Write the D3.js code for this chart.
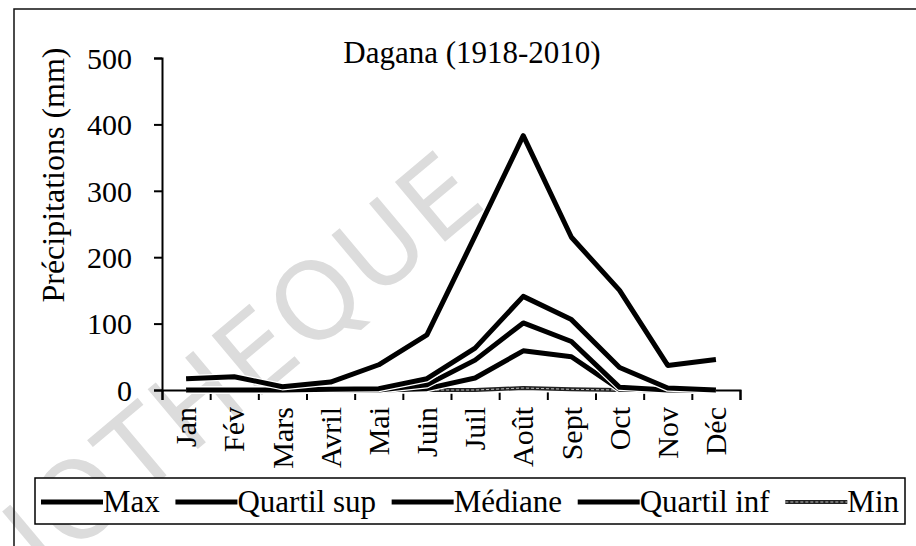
<!DOCTYPE html>
<html>
<head>
<meta charset="utf-8">
<script src="https://cdn.jsdelivr.net/npm/d3@7"></script>
<style>
  body { margin: 0; background: #fff; }
  svg text { font-family: "Liberation Serif", "Times New Roman", serif; fill: #000; }
</style>
</head>
<body>
<div id="chart"></div>
<script>
var months = ["Jan", "Fév", "Mars", "Avril", "Mai", "Juin", "Juil", "Août", "Sept", "Oct", "Nov", "Déc"];
var maxVals = [17, 20, 5, 12, 38, 83, 232, 383, 230, 150, 37, 46];
var quartSup = [0, 0, 0, 1, 2, 17, 63, 141, 106, 34, 3, 0];
var mediane = [0, 0, 0, 0, 0, 8, 45, 101, 73, 4, 0, 0];
var quartInf = [0, 0, 0, 0, 0, 2, 18, 59, 50, 1, 0, 0];
var minVals = [0, 0, 0, 0, 0, 0, 0, 3, 1, 0, 0, 0];
var seriesNames = ["Max", "Quartil sup", "Médiane", "Quartil inf", "Min"];
var yTicks = [0, 100, 200, 300, 400, 500];

var series = [maxVals, quartSup, mediane, quartInf, minVals].map(function(v, i) {
    return { name: seriesNames[i], values: v };
});

var width = 916, height = 546;
var svg = d3.select("#chart").append("svg").attr("width", width).attr("height", height);

// watermark
svg.append("text")
    .attr("transform", "translate(491,203) rotate(-40)")
    .attr("text-anchor", "end")
    .style("font-family", "DejaVu Sans")
    .attr("font-size", 107)
    .style("fill", "#dcdcdc")
    .attr("letter-spacing", 3)
    .text("BIBLIOTHEQUE");

// outer frame
svg.append("rect").attr("x", 14).attr("y", 9).attr("width", 1000).attr("height", 1000)
    .attr("fill", "none").attr("stroke", "#111").attr("stroke-width", 1.5);

var x = d3.scaleBand().domain(months).range([162, 740]);
var xb = d3.scaleLinear().domain([0, 12]).range([162, 740]);
var y = d3.scaleLinear().domain([0, 500]).range([390, 58]);

// y axis
var yAxis = d3.axisLeft(y).tickValues(yTicks).tickSize(8).tickPadding(22);
var yg = svg.append("g").attr("transform", "translate(162,0)").call(yAxis);
yg.selectAll("text").attr("font-size", 30).attr("dy", "0.34em");

// x axis, ticks between categories
var xAxis = d3.axisBottom(xb).ticks(12).tickSize(10).tickFormat("");
svg.append("g").attr("transform", "translate(0,390)").call(xAxis);
svg.selectAll(".domain").attr("stroke", "#000").attr("stroke-width", 2);
svg.selectAll(".tick line").attr("stroke", "#000").attr("stroke-width", 2);

svg.append("g").selectAll("text").data(months).enter().append("text")
    .attr("transform", function(d) {
        return "translate(" + (x(d) + x.bandwidth() / 2) + ",407) rotate(-90)";
    })
    .attr("dy", "0.34em")
    .attr("text-anchor", "end")
    .attr("font-size", 30)
    .text(function(d) { return d; });

// lines
var line = d3.line()
    .x(function(d, i) { return x(months[i]) + x.bandwidth() / 2; })
    .y(function(d) { return y(d); });

var lines = svg.append("g");
series.slice().reverse().forEach(function(s) {
    lines.append("path").attr("d", line(s.values)).attr("fill", "none")
        .attr("stroke", "#fff").attr("stroke-width", 7.5).attr("stroke-linejoin", "round");
    if (s.name === "Min") {
        lines.append("path").attr("d", line(s.values)).attr("fill", "none")
            .attr("stroke", "#222").attr("stroke-width", 4);
        lines.append("path").attr("d", line(s.values)).attr("fill", "none")
            .attr("stroke", "#bbb").attr("stroke-width", 1).attr("stroke-dasharray", "3,2");
    } else {
        lines.append("path").attr("d", line(s.values)).attr("fill", "none")
            .attr("stroke", "#000").attr("stroke-width", 5).attr("stroke-linejoin", "round");
    }
});

// title
svg.append("text").attr("x", 472).attr("y", 63).attr("text-anchor", "middle")
    .attr("font-size", 31).text("Dagana (1918-2010)");

// y label
svg.append("text").attr("transform", "translate(64,175) rotate(-90)")
    .attr("text-anchor", "middle").attr("font-size", 32).text("Précipitations (mm)");

// legend
var boxX = 35, boxW = 870;
svg.append("rect").attr("x", boxX).attr("y", 478).attr("width", boxW).attr("height", 46)
    .attr("fill", "#fff").attr("stroke", "#000").attr("stroke-width", 1.5);
var lg = svg.append("g");
var sw = 62;
var items = series.map(function(s) {
    var t = lg.append("text").attr("y", 512).attr("font-size", 31).text(s.name);
    return { s: s, t: t, w: t.node().getComputedTextLength() };
});
var totalText = d3.sum(items, function(d) { return d.w; });
var gap = (boxW - 12 - totalText - sw * items.length) / (items.length - 1);
var lx = boxX + 6;
items.forEach(function(it) {
    if (it.s.name === "Min") {
        lg.append("line").attr("x1", lx).attr("x2", lx + sw).attr("y1", 502).attr("y2", 502)
            .attr("stroke", "#222").attr("stroke-width", 4);
        lg.append("line").attr("x1", lx).attr("x2", lx + sw).attr("y1", 502).attr("y2", 502)
            .attr("stroke", "#bbb").attr("stroke-width", 1).attr("stroke-dasharray", "3,2");
    } else {
        lg.append("line").attr("x1", lx).attr("x2", lx + sw).attr("y1", 502).attr("y2", 502)
            .attr("stroke", "#000").attr("stroke-width", 5);
    }
    it.t.attr("x", lx + sw);
    lx += sw + it.w + gap;
});
</script>
</body>
</html>
